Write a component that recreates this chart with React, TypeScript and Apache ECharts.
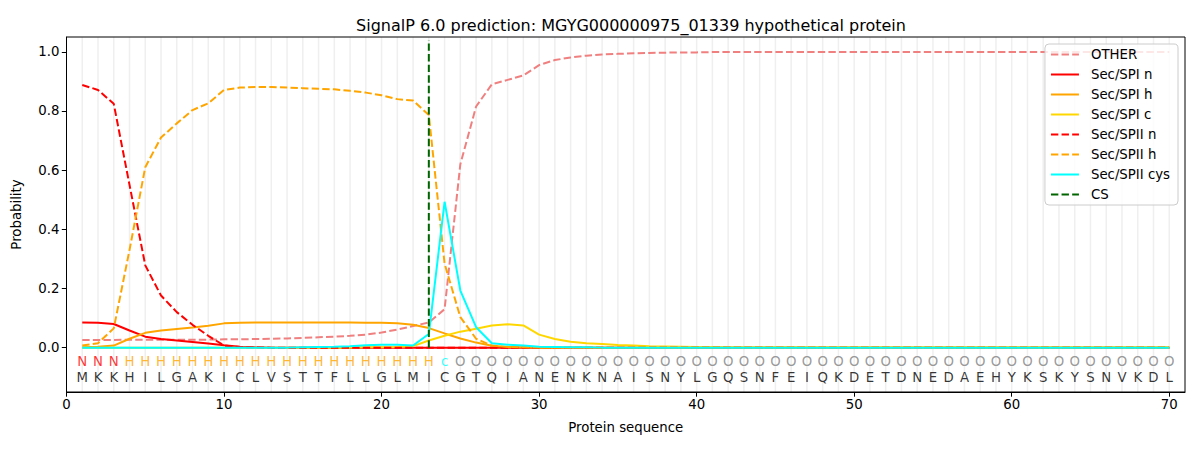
import React, { useEffect, useRef } from "react";
import * as echarts from "echarts";

const sequence = "MKKHILGAKICLVSTTFLLGLMICGTQIANENKNAISNYLGQSNFEIQKDETDNEDAEHYKSKYSNVKDL".split("");
const regionLabels = "NNNHHHHHHHHHHHHHHHHHHHHCOOOOOOOOOOOOOOOOOOOOOOOOOOOOOOOOOOOOOOOOOOOOOO".split("");

const other = [
  0.026, 0.026, 0.026, 0.027, 0.027, 0.027, 0.027, 0.027, 0.027, 0.028,
  0.028, 0.029, 0.030, 0.031, 0.033, 0.035, 0.037, 0.040, 0.044, 0.051,
  0.061, 0.073, 0.085, 0.13, 0.62, 0.815, 0.89, 0.905, 0.92, 0.955,
  0.972, 0.981, 0.987, 0.991, 0.993, 0.995, 0.996, 0.997, 0.998, 0.998,
  0.999, 0.999, 0.999, 0.999, 0.999, 0.999, 0.999, 0.999, 0.999, 0.999,
  0.999, 0.999, 0.999, 0.999, 0.999, 0.999, 0.999, 0.999, 0.999, 0.999,
  0.999, 0.999, 0.999, 0.999, 0.999, 0.999, 0.999, 0.999, 0.999, 0.999,
];
const spiN = [
  0.085, 0.084, 0.080, 0.058, 0.037, 0.029, 0.024, 0.019, 0.014, 0.008,
  0.003, 0.001, 0, 0, 0, 0, 0, 0, 0, 0,
  0, 0, 0, 0, 0, 0, 0, 0, 0, 0,
  0, 0, 0, 0, 0, 0, 0, 0, 0, 0,
  0, 0, 0, 0, 0, 0, 0, 0, 0, 0,
  0, 0, 0, 0, 0, 0, 0, 0, 0, 0,
  0, 0, 0, 0, 0, 0, 0, 0, 0, 0,
];
const spiH = [
  0.001, 0.003, 0.007, 0.03, 0.05, 0.058, 0.063, 0.068, 0.074, 0.082,
  0.084, 0.085, 0.085, 0.085, 0.085, 0.085, 0.085, 0.085, 0.084, 0.084,
  0.082, 0.077, 0.066, 0.048, 0.031, 0.017, 0.006, 0.002, 0.001, 0,
  0, 0, 0, 0, 0, 0, 0, 0, 0, 0,
  0, 0, 0, 0, 0, 0, 0, 0, 0, 0,
  0, 0, 0, 0, 0, 0, 0, 0, 0, 0,
  0, 0, 0, 0, 0, 0, 0, 0, 0, 0,
];
const spiC = [
  0, 0, 0, 0, 0, 0, 0, 0, 0, 0,
  0, 0, 0, 0, 0, 0, 0, 0, 0.001, 0.001,
  0.002, 0.005, 0.024, 0.04, 0.054, 0.064, 0.075, 0.079, 0.075, 0.044,
  0.029, 0.02, 0.015, 0.012, 0.009, 0.007, 0.005, 0.004, 0.003, 0.002,
  0.002, 0.001, 0.001, 0.001, 0.001, 0.001, 0.001, 0.001, 0.001, 0.001,
  0.001, 0.001, 0.001, 0.001, 0.001, 0.001, 0.001, 0.001, 0.001, 0.001,
  0.001, 0.001, 0.001, 0.001, 0.001, 0.001, 0.001, 0.001, 0.001, 0.001,
];
const spiiN = [
  0.888, 0.871, 0.824, 0.55, 0.278, 0.176, 0.12, 0.077, 0.04, 0.007,
  0.002, 0.001, 0, 0, 0, 0, 0, 0, 0, 0,
  0, 0, 0, 0, 0, 0, 0, 0, 0, 0,
  0, 0, 0, 0, 0, 0, 0, 0, 0, 0,
  0, 0, 0, 0, 0, 0, 0, 0, 0, 0,
  0, 0, 0, 0, 0, 0, 0, 0, 0, 0,
  0, 0, 0, 0, 0, 0, 0, 0, 0, 0,
];
const spiiH = [
  0.007, 0.015, 0.065, 0.33, 0.61, 0.71, 0.758, 0.803, 0.826, 0.871,
  0.879, 0.881, 0.881, 0.879, 0.877, 0.875, 0.873, 0.868, 0.862, 0.853,
  0.84, 0.835, 0.786, 0.284, 0.103, 0.03, 0.007, 0.002, 0.001, 0,
  0, 0, 0, 0, 0, 0, 0, 0, 0, 0,
  0, 0, 0, 0, 0, 0, 0, 0, 0, 0,
  0, 0, 0, 0, 0, 0, 0, 0, 0, 0,
  0, 0, 0, 0, 0, 0, 0, 0, 0, 0,
];
const spiiCys = [
  0, 0, 0, 0, 0, 0, 0, 0, 0, 0,
  0, 0, 0, 0, 0.001, 0.002, 0.003, 0.005, 0.008, 0.01,
  0.01, 0.007, 0.046, 0.493, 0.193, 0.069, 0.015, 0.01, 0.007, 0.003,
  0.002, 0.001, 0.001, 0, 0, 0, 0, 0, 0, 0,
  0, 0, 0, 0, 0, 0, 0, 0, 0, 0,
  0, 0, 0, 0, 0, 0, 0, 0, 0, 0,
  0, 0, 0, 0, 0, 0, 0, 0, 0, 0,
];
const csPosition = 23;
const csSpan = [0, 1.04];
const xTicks = [0, 10, 20, 30, 40, 50, 60, 70];
const yTicks = [0, 0.2, 0.4, 0.6, 0.8, 1.0];

const labelColors: Record<string, string> = { N: "#ff0000", H: "#ffa500", C: "#00ffff", O: "#808080" };
const FONT = "DejaVu Sans";
const DASH = [7.4, 3.2];

function toPoints(arr: number[]) {
  return arr.map((v, i) => [i + 1, v]);
}

export default function App() {
  const ref = useRef<HTMLDivElement>(null);
  useEffect(() => {
    if (!ref.current) return;
    const chart = echarts.init(ref.current, null, { renderer: "svg" });
    const positions = sequence.map((_, i) => i + 1);
    const lineSeries = (name: string, data: number[], color: string, dashed: boolean, z: number) => ({
      name,
      type: "line",
      data: toPoints(data),
      symbol: "none",
      z,
      lineStyle: { color, width: 2, type: dashed ? DASH : "solid" },
      itemStyle: { color },
    });
    const option: any = {
      animation: false,
      backgroundColor: "#ffffff",
      textStyle: { fontFamily: FONT },
      title: {
        text: "SignalP 6.0 prediction: MGYG000000975_01339 hypothetical protein",
        left: 626,
        top: 12,
        textAlign: "center",
        textStyle: { fontFamily: FONT, fontSize: 16, fontWeight: "normal", color: "#000" },
      },
      grid: { left: 66.5, right: 15, top: 37, bottom: 58, containLabel: false },
      legend: {
        orient: "vertical",
        right: 22,
        top: 44,
        itemWidth: 28,
        itemHeight: 14,
        itemGap: 7,
        padding: [4, 8, 4, 5],
        backgroundColor: "rgba(255,255,255,0.8)",
        borderColor: "#cccccc",
        borderWidth: 1,
        borderRadius: 4,
        itemStyle: { opacity: 0 },
        textStyle: { fontFamily: FONT, fontSize: 13.3, color: "#000", padding: [0, 0, 0, 7] },
        data: ["OTHER", "Sec/SPI n", "Sec/SPI h", "Sec/SPI c", "Sec/SPII n", "Sec/SPII h", "Sec/SPII cys", "CS"],
      },
      xAxis: {
        type: "value",
        min: 0,
        max: 71,
        name: "Protein sequence",
        nameLocation: "middle",
        nameGap: 29,
        nameTextStyle: { fontFamily: FONT, fontSize: 13.3, color: "#000" },
        axisLine: { onZero: false, lineStyle: { color: "#000", width: 1 } },
        axisTick: { customValues: xTicks, length: 4.7, lineStyle: { color: "#000" } },
        axisLabel: { customValues: xTicks, fontFamily: FONT, fontSize: 13.3, color: "#000", margin: 6 },
        splitLine: { show: false },
      },
      yAxis: {
        type: "value",
        min: -0.15,
        max: 1.05,
        name: "Probability",
        nameLocation: "middle",
        nameGap: 44,
        nameTextStyle: { fontFamily: FONT, fontSize: 13.3, color: "#000" },
        axisLine: { show: true, onZero: false, lineStyle: { color: "#000", width: 1 } },
        axisTick: { show: true, customValues: yTicks, length: 4.7, lineStyle: { color: "#000" } },
        axisLabel: {
          customValues: yTicks,
          fontFamily: FONT,
          fontSize: 13.3,
          color: "#000",
          margin: 7,
          formatter: (v: number) => v.toFixed(1),
        },
        splitLine: { show: false },
      },
      series: [
        {
          name: "gridlines",
          type: "custom",
          z: 0,
          silent: true,
          data: positions,
          renderItem: (params: any, api: any) => {
            const x = api.value(0);
            const p0 = api.coord([x, -0.15]);
            const p1 = api.coord([x, 1.05]);
            return {
              type: "line",
              shape: { x1: p0[0], y1: p0[1], x2: p1[0], y2: p1[1] },
              style: { stroke: "#efefef", lineWidth: 1.5 },
            };
          },
        },
        {
          name: "outerbox",
          type: "custom",
          z: 1,
          silent: true,
          data: [0],
          renderItem: (params: any, api: any) => {
            const a = api.coord([0, 1.05]);
            const b = api.coord([71, -0.15]);
            return {
              type: "polyline",
              shape: { points: [[a[0], b[1]], [b[0], b[1]], [b[0], a[1]], [a[0], a[1]], [a[0], b[1]]] },
              style: { stroke: "#000", lineWidth: 1, fill: "none" },
            };
          },
        },
        lineSeries("OTHER", other, "#f08080", true, 2),
        lineSeries("Sec/SPI n", spiN, "#ff0000", false, 3),
        lineSeries("Sec/SPI h", spiH, "#ffa500", false, 4),
        lineSeries("Sec/SPI c", spiC, "#ffd700", false, 5),
        lineSeries("Sec/SPII n", spiiN, "#ff0000", true, 6),
        lineSeries("Sec/SPII h", spiiH, "#ffa500", true, 7),
        lineSeries("Sec/SPII cys", spiiCys, "#00ffff", false, 8),
        {
          name: "CS",
          type: "line",
          data: csSpan.map((v) => [csPosition, v]),
          symbol: "none",
          z: 9,
          lineStyle: { color: "#006400", width: 2, type: DASH },
          itemStyle: { color: "#006400" },
        },
        {
          name: "regions",
          type: "scatter",
          symbolSize: 0,
          silent: true,
          z: 10,
          data: regionLabels.map((l, i) => ({
            value: [i + 1, -0.047],
            label: { color: labelColors[l] },
            name: l === "C" ? "c" : l,
          })),
          label: {
            show: true,
            position: "inside",
            fontFamily: FONT,
            fontSize: 13.3,
            formatter: (p: any) => p.name,
          },
        },
        {
          name: "residues",
          type: "scatter",
          symbolSize: 0,
          silent: true,
          z: 10,
          data: sequence.map((aa, i) => ({ value: [i + 1, -0.1], name: aa })),
          label: {
            show: true,
            position: "inside",
            fontFamily: FONT,
            fontSize: 13.3,
            color: "#000",
            formatter: (p: any) => p.name,
          },
        },
      ],
    };
    chart.setOption(option);
    return () => chart.dispose();
  }, []);
  return (
    <div
      ref={ref}
      style={{ position: "fixed", left: 0, top: 0, width: 1200, height: 450, background: "#fff" }}
    />
  );
}
